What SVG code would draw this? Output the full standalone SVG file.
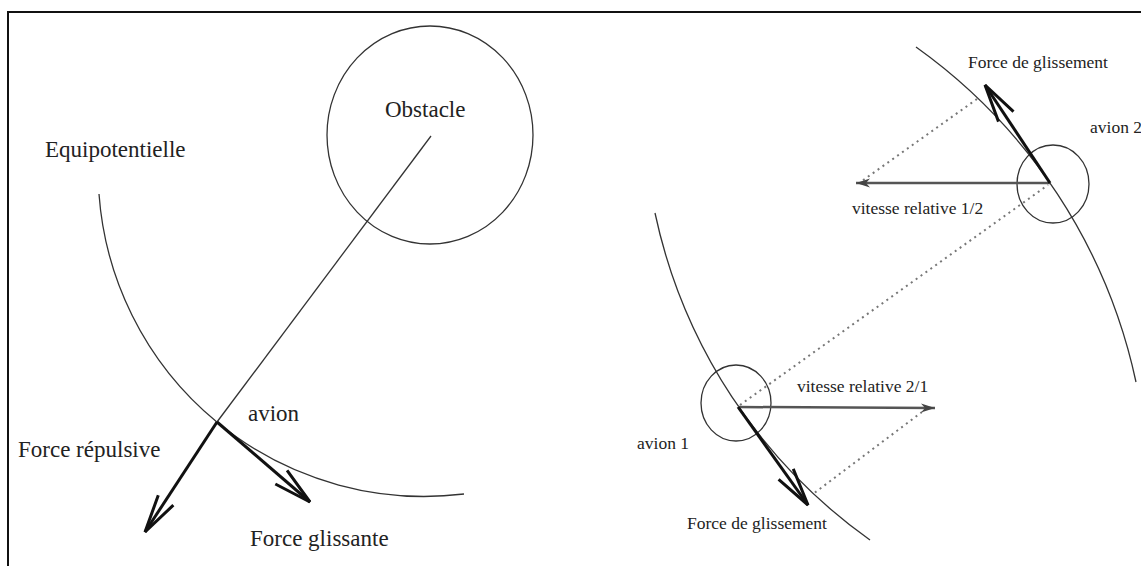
<svg xmlns="http://www.w3.org/2000/svg" width="1141" height="566" viewBox="0 0 1141 566">
<defs>
<style>
.lbl{font-family:"Liberation Serif","Times New Roman",serif;fill:#222}
.big{font-size:23px}
.small{font-size:17.5px}
.thin{fill:none;stroke:#333;stroke-width:1.3}
.force{fill:none;stroke:#111;stroke-width:3;marker-end:url(#vhead)}
.vrel{fill:none;stroke:#555;stroke-width:2.5;marker-end:url(#shead)}
.dot{fill:none;stroke:#777;stroke-width:2;stroke-dasharray:2 4}
</style>
<marker id="vhead" markerUnits="userSpaceOnUse" markerWidth="50" markerHeight="30" viewBox="-45 -15 50 30" refX="0" refY="0" orient="auto" overflow="visible">
<path d="M-38,-9 L0,0 L-38,9" fill="none" stroke="#111" stroke-width="3" stroke-linejoin="miter"/>
</marker>
<marker id="shead" markerUnits="userSpaceOnUse" markerWidth="20" markerHeight="12" viewBox="-16 -6 20 12" refX="0" refY="0" orient="auto" overflow="visible">
<path d="M-14,-4.5 L0,0 L-14,4.5 L-10,0 Z" fill="#444" stroke="none"/>
</marker>
</defs>
<path id="frame" d="M8,570 V12 H1145" fill="none" stroke="#111" stroke-width="2"/>

<g id="left-diagram">
<g id="obstacle">
<ellipse class="thin" cx="430" cy="135" rx="103" ry="109"/>
<text class="lbl big" x="385" y="117">Obstacle</text>
</g>
<g id="equipotentielle">
<path class="thin" d="M99,194 A326,326 0 0 0 464,494"/>
<text class="lbl big" x="45" y="157">Equipotentielle</text>
</g>
<g id="avion">
<text class="lbl big" x="248" y="421">avion</text>
</g>
<g id="label-repulsive"><text class="lbl big" x="18" y="457">Force répulsive</text></g>
<g id="label-glissante"><text class="lbl big" x="250" y="546">Force glissante</text></g>
</g>

<g id="right-diagram">
<g id="avion1">
<ellipse class="thin" cx="736" cy="403" rx="35" ry="38"/>
<text class="lbl small" x="637" y="449">avion 1</text>
</g>
<g id="avion2">
<ellipse class="thin" cx="1053" cy="184" rx="36" ry="39"/>
<text class="lbl small" x="1090" y="133">avion 2</text>
</g>
<g id="equi1"><path class="thin" d="M655,213 A539,539 0 0 0 870,540"/></g>
<g id="equi2"><path class="thin" d="M916,47 A554,554 0 0 1 1136,382"/></g>
<g id="labels-right">
<text class="lbl small" x="687" y="529">Force de glissement</text>
<text class="lbl small" x="797" y="392">vitesse relative 2/1</text>
<text class="lbl small" x="852" y="214">vitesse relative 1/2</text>
<text class="lbl small" x="968" y="68">Force de glissement</text>
</g>
</g>

<g id="connectors">
<line class="thin" x1="431" y1="136" x2="217" y2="422"/>
<line class="force" x1="217" y1="422" x2="145" y2="532"/>
<line class="force" x1="217" y1="422" x2="310" y2="502"/>
<line class="dot" x1="740" y1="405" x2="1048" y2="185"/>
<line class="dot" x1="922" y1="412" x2="813" y2="494"/>
<line class="dot" x1="977" y1="99" x2="862" y2="181"/>
<line class="vrel" x1="738" y1="407" x2="935" y2="408"/>
<line class="vrel" x1="1050" y1="183" x2="856" y2="183"/>
<line class="force" x1="738" y1="407" x2="808" y2="505"/>
<line class="force" x1="1050" y1="183" x2="985" y2="85"/>
</g>
</svg>
